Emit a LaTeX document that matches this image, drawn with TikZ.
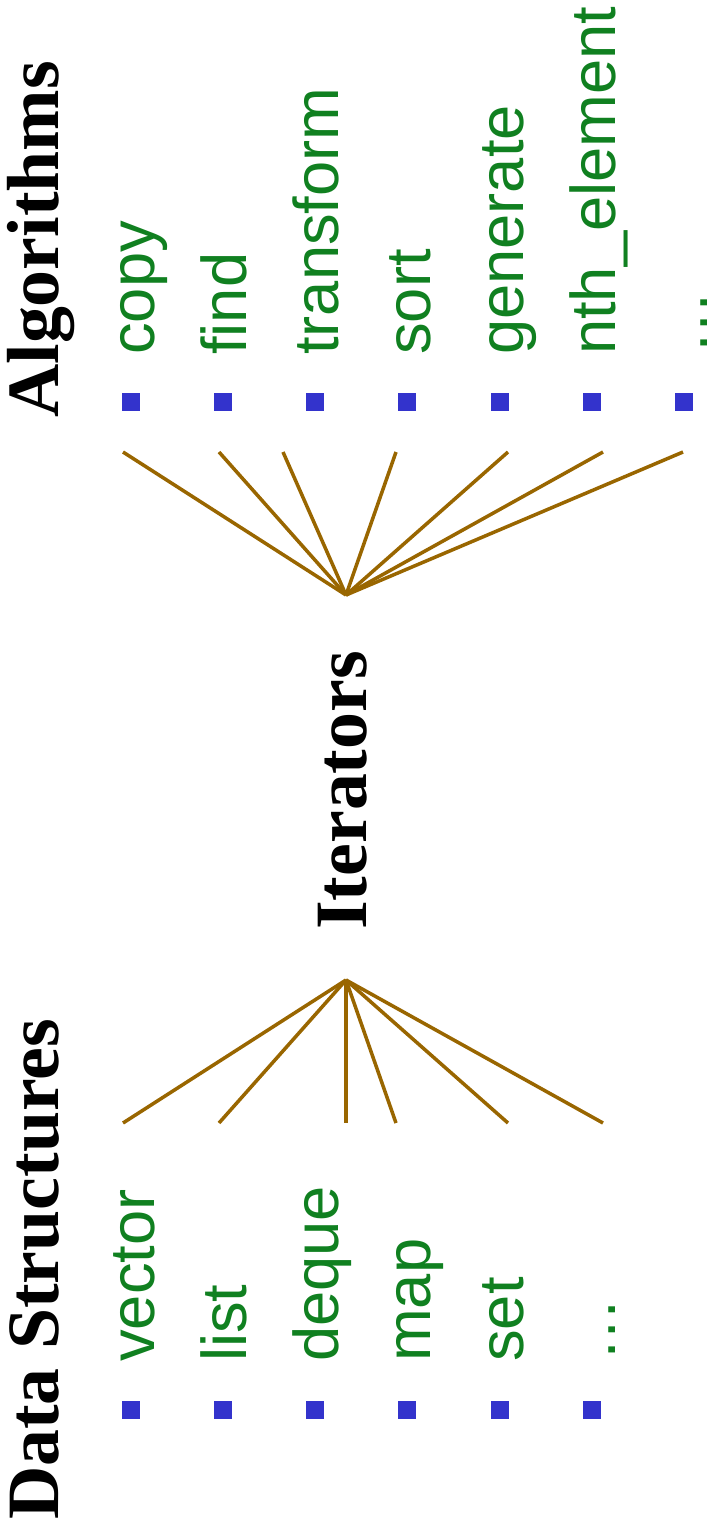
\documentclass[tikz,border=0pt]{standalone}
\usepackage{fontspec}
\setmainfont{Liberation Serif}
\setsansfont{Liberation Sans}
\usepackage{xcolor}
\definecolor{itemgreen}{RGB}{16,128,32}
\definecolor{bulletblue}{RGB}{51,51,204}
\definecolor{linkbrown}{RGB}{153,102,0}

\begin{document}
\begin{tikzpicture}[
  x=0.3mm, y=-0.3mm,
  heading/.style={
    rotate=90,
    anchor=base west,
    inner sep=0pt,
    font=\fontsize{63}{70}\selectfont\bfseries
  },
  entry/.style={
    rotate=90,
    anchor=base west,
    inner sep=0pt,
    text=itemgreen,
    font=\sffamily\fontsize{54}{60}\selectfont
  },
  bullet/.style={
    fill=bulletblue,
    inner sep=0pt,
    minimum size=16pt
  },
  link/.style={draw=linkbrown,line width=3pt}
]
\useasboundingbox (0,0) rectangle (710,1535);

% Headings
\node[heading] (alg) at (58,418) {Algorithms};
\node[heading] (iter) at (366,930) {Iterators};
\node[heading] (ds) at (58,1520) {Data Structures};

% Algorithms column
\node[bullet] (ab1) at (131,402) {};
\node[bullet] (ab2) at (223,402) {};
\node[bullet] (ab3) at (315,402) {};
\node[bullet] (ab4) at (407,402) {};
\node[bullet] (ab5) at (500,402) {};
\node[bullet] (ab6) at (592,402) {};
\node[bullet] (ab7) at (684,402) {};

\node[entry] (copy) at (154,355) {copy};
\node[entry] (find) at (246,355) {find};
\node[entry] (transform) at (338,355) {transform};
\node[entry] (sort) at (430,355) {sort};
\node[entry] (generate) at (523,355) {generate};
\node[entry] (nth) at (615,355) {nth\_element};
\node[entry] (amore) at (707,355) {\dots};

% Data structures column
\node[bullet] (db1) at (131,1410) {};
\node[bullet] (db2) at (223,1410) {};
\node[bullet] (db3) at (315,1410) {};
\node[bullet] (db4) at (407,1410) {};
\node[bullet] (db5) at (500,1410) {};
\node[bullet] (db6) at (592,1410) {};

\node[entry] (vector) at (154,1362) {vector};
\node[entry] (list) at (246,1362) {list};
\node[entry] (deque) at (338,1362) {deque};
\node[entry] (map) at (430,1362) {map};
\node[entry] (set) at (523,1362) {set};
\node[entry] (dmore) at (615,1362) {\dots};

% Fan points of the iterators
\coordinate (itop) at (346,595);
\coordinate (ibot) at (346,980);

\coordinate (a1) at (123,452);
\coordinate (a2) at (219,452);
\coordinate (a3) at (283,452);
\coordinate (a4) at (396,452);
\coordinate (a5) at (508,452);
\coordinate (a6) at (603,452);
\coordinate (a7) at (683,452);

\coordinate (d1) at (123,1123);
\coordinate (d2) at (219,1123);
\coordinate (d3) at (346,1123);
\coordinate (d4) at (396,1123);
\coordinate (d5) at (508,1123);
\coordinate (d6) at (603,1123);

\draw[link] (itop) -- (a1);
\draw[link] (itop) -- (a2);
\draw[link] (itop) -- (a3);
\draw[link] (itop) -- (a4);
\draw[link] (itop) -- (a5);
\draw[link] (itop) -- (a6);
\draw[link] (itop) -- (a7);

\draw[link] (ibot) -- (d1);
\draw[link] (ibot) -- (d2);
\draw[link] (ibot) -- (d3);
\draw[link] (ibot) -- (d4);
\draw[link] (ibot) -- (d5);
\draw[link] (ibot) -- (d6);

\end{tikzpicture}
\end{document}
